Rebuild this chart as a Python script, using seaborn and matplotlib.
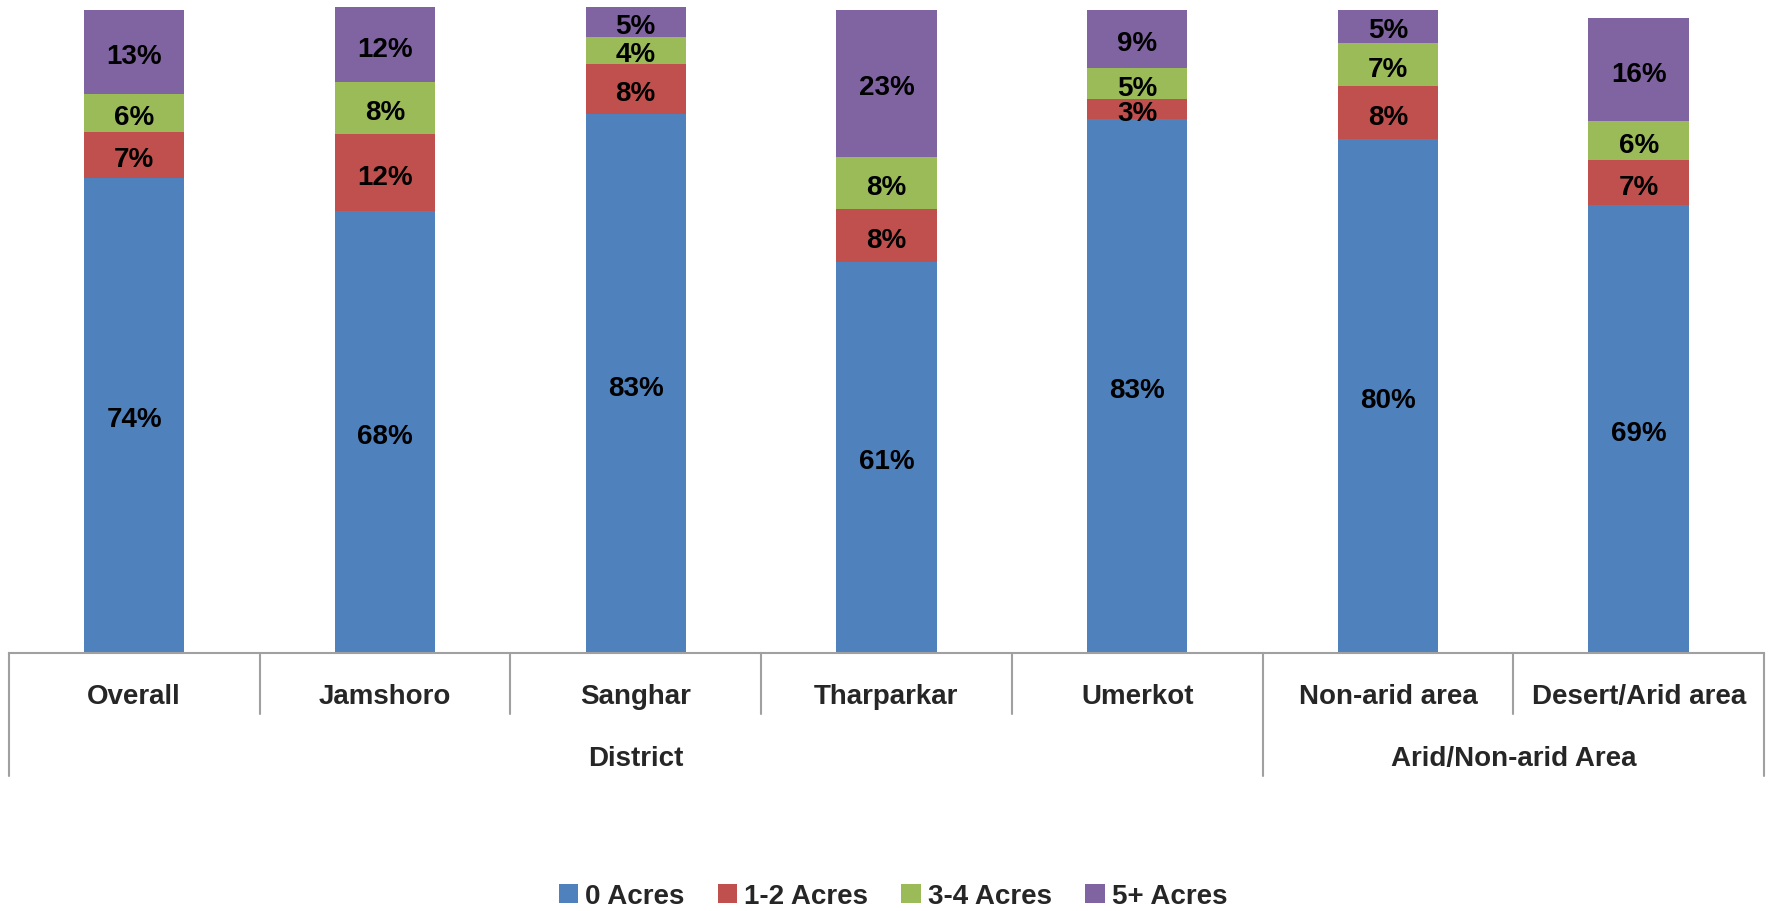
import numpy as np
import pandas as pd
import matplotlib.pyplot as plt
import seaborn as sns
from matplotlib.patches import Patch


# --- Data ---
categories = ["Overall", "Jamshoro", "Sanghar", "Tharparkar", "Umerkot",
              "Non-arid area", "Desert/Arid area"]
groups = ["District", "Arid/Non-arid Area"]
group_spans = [(0, 4), (5, 6)]
series = ["0 Acres", "1-2 Acres", "3-4 Acres", "5+ Acres"]
acres_0 = [73.6, 68.4, 83.4, 60.6, 82.7, 79.6, 69.3]
acres_1_2 = [7.0, 11.9, 7.8, 8.1, 3.0, 8.1, 7.0]
acres_3_4 = [6.0, 8.1, 4.2, 8.1, 4.9, 6.8, 6.1]
acres_5p = [13.0, 11.6, 4.6, 22.8, 8.9, 5.1, 15.9]
colors = ["#4F81BD", "#C0504D", "#9BBB59", "#8064A2"]

df = pd.DataFrame({"category": categories, "0 Acres": acres_0, "1-2 Acres": acres_1_2,
                   "3-4 Acres": acres_3_4, "5+ Acres": acres_5p})


# --- Plot styling ---
sns.set_theme(style="white")
plt.rcParams["font.family"] = ["Liberation Sans", "DejaVu Sans"]
plt.rcParams["font.weight"] = "bold"
fig = plt.figure(figsize=(17.75, 9.12), dpi=100)
ax = fig.add_axes([0.005, 0.2829, 0.9888, 0.7083])


# --- Stacked bars ---
bottom = np.zeros(len(categories))
for name, color in zip(series, colors):
    sns.barplot(data=df, x="category", y=name, color=color, width=0.40,
                bottom=bottom, saturation=1, ax=ax, linewidth=0)
    bottom = bottom + df[name].values

for cont, name in zip(ax.containers, series):
    ax.bar_label(cont, labels=[f"{v:.0f}%" for v in df[name]], label_type="center",
                 fontsize=20, fontweight="bold", color="black", padding=-3)


# --- Axes configuration ---
ax.set_ylim(0, 100)
ax.set_xlim(-0.5, len(categories) - 0.5)
ax.set_xlabel("")
ax.set_ylabel("")
ax.set_xticks([])
ax.set_yticks([])
for side in ["top", "left", "right"]:
    ax.spines[side].set_visible(False)
ax.spines["bottom"].set_color("#A0A0A0")
ax.spines["bottom"].set_linewidth(1.5)

trans = ax.get_xaxis_transform()
short_y, long_y = -0.094, -0.19
for b in np.arange(-0.5, len(categories), 1.0):
    is_long = b in (-0.5, 4.5, 6.5)
    ax.plot([b, b], [0, long_y if is_long else short_y], color="#A0A0A0",
            linewidth=1.5, transform=trans, clip_on=False)

for i, c in enumerate(categories):
    ax.text(i, -0.067, c, transform=trans, ha="center", va="center",
            fontsize=20, fontweight="bold")
for g, (a, b) in zip(groups, group_spans):
    ax.text((a + b) / 2, -0.162, g, transform=trans, ha="center", va="center",
            fontsize=20, fontweight="bold")


# --- Legend ---
handles = [Patch(facecolor=c, edgecolor="none") for c in colors]
fig.legend(handles, series, loc="center", bbox_to_anchor=(0.503, 0.016), ncol=4,
           frameon=False, fontsize=20, handlelength=0.7, handleheight=0.7,
           handletextpad=0.25, columnspacing=1.2)


# --- Render ---
fig.savefig("out.png", dpi=100)
